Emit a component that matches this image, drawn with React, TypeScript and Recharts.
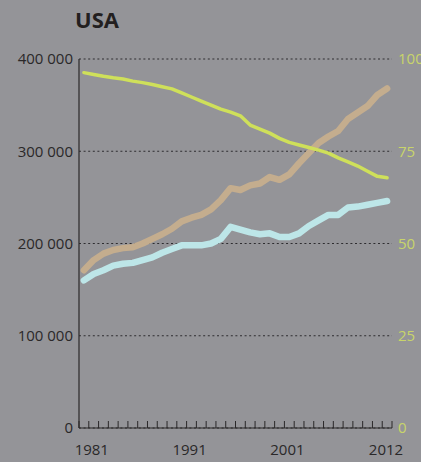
import { CartesianGrid, Line, LineChart, XAxis, YAxis } from "recharts";

const years = [
  1981, 1982, 1983, 1984, 1985, 1986, 1987, 1988, 1989, 1990, 1991, 1992, 1993,
  1994, 1995, 1996, 1997, 1998, 1999, 2000, 2001, 2002, 2003, 2004, 2005, 2006,
  2007, 2008, 2009, 2010, 2011, 2012,
];

// left axis
const tanValues = [
  171000, 182000, 189000, 193000, 195000, 196000, 200000, 205000, 210000,
  216000, 224000, 228000, 231000, 237000, 247000, 260000, 258000, 263000,
  265000, 272000, 269000, 275000, 287000, 298000, 309000, 316000, 322000,
  335000, 342000, 349000, 361000, 368000,
];
const cyanValues = [
  160000, 167000, 171000, 176000, 178000, 179000, 182000, 185000, 190000,
  194000, 198000, 198000, 198000, 200000, 205000, 218000, 215000, 212000,
  210000, 211000, 207000, 207000, 211000, 219000, 225000, 231000, 231000,
  239000, 240000, 242000, 244000, 246000,
];
// right axis (0-100)
const greenValues = [
  96.3, 95.8, 95.3, 94.9, 94.6, 94.0, 93.6, 93.1, 92.5, 91.9, 90.8, 89.7, 88.6,
  87.5, 86.4, 85.6, 84.6, 82.1, 81.0, 79.9, 78.5, 77.4, 76.7, 76.0, 75.3, 74.5,
  73.2, 72.1, 71.0, 69.6, 68.2, 67.8,
];

const leftTicks = [0, 100000, 200000, 300000, 400000];
const rightTicks = [0, 25, 50, 75, 100];
const labelYears = [1981, 1991, 2001, 2012];

const rows = years.map((year, i) => ({
  year,
  tan: tanValues[i],
  cyan: cyanValues[i],
  green: greenValues[i],
}));

// tick marks sit between the years
const tickMarks = [...years.map((y) => y - 0.5), years[years.length - 1] + 0.5];
const lastMark = tickMarks[tickMarks.length - 1];

const BG = "#949498";
const INK = "#2a2829";
const GREEN = "#cfe05a";

function YearTick(props: any) {
  const { x, y, payload } = props;
  const v = payload.value;
  const yearLabel = labelYears.find((ly) => ly + 0.5 === v);
  const isLast = v === lastMark;
  return (
    <g>
      <line x1={x} x2={x} y1={y} y2={y - 7} stroke={INK} strokeWidth={1} />
      {yearLabel !== undefined && (
        <text x={x + (isLast ? -6 : 3)} y={y + 27} textAnchor="middle" fill={INK} fontSize={15}>
          {yearLabel}
        </text>
      )}
    </g>
  );
}

const fmtLeft = (v: number) => (v === 0 ? "0" : `${v / 1000} 000`);

export default function App() {
  return (
    <div
      style={{
        position: "fixed",
        left: 0,
        top: 0,
        width: 421,
        height: 462,
        background: BG,
        fontFamily: "'Open Sans', sans-serif",
      }}
    >
      <div
        style={{
          position: "absolute",
          left: 75,
          top: 4,
          fontSize: 22,
          lineHeight: "30px",
          fontWeight: 700,
          color: "#231f20",
        }}
      >
        USA
      </div>
      <LineChart
        width={421}
        height={462}
        data={rows}
        margin={{ top: 59, right: 0, bottom: 0, left: 0 }}
      >
        <CartesianGrid
          vertical={false}
          yAxisId="left"
          stroke="#2e2d30"
          strokeDasharray="2 2.6"
        />
        <XAxis
          dataKey="year"
          type="number"
          domain={[tickMarks[0], lastMark]}
          ticks={tickMarks}
          interval={0}
          height={34}
          axisLine={{ stroke: INK, strokeWidth: 1.2 }}
          tickLine={false}
          tickSize={0}
          tickMargin={0}
          tick={<YearTick />}
        />
        <YAxis
          yAxisId="left"
          width={79}
          domain={[0, 400000]}
          ticks={leftTicks}
          interval={0}
          axisLine={{ stroke: INK, strokeWidth: 1.2 }}
          tickLine={false}
          tickSize={0}
          tickMargin={6}
          tickFormatter={fmtLeft}
          tick={{ fill: INK, fontSize: 15 }}
        />
        <YAxis
          yAxisId="right"
          orientation="right"
          width={29}
          domain={[0, 100]}
          ticks={rightTicks}
          interval={0}
          axisLine={false}
          tickLine={false}
          tickSize={0}
          tickMargin={6}
          tick={{ fill: "#c8d46a", fontSize: 15 }}
        />
        <Line
          yAxisId="left"
          dataKey="tan"
          type="linear"
          stroke="#c4ad8e"
          strokeWidth={6.5}
          strokeLinecap="round"
          strokeLinejoin="round"
          dot={false}
          isAnimationActive={false}
        />
        <Line
          yAxisId="left"
          dataKey="cyan"
          type="linear"
          stroke="#bde6e8"
          strokeWidth={6.5}
          strokeLinecap="round"
          strokeLinejoin="round"
          dot={false}
          isAnimationActive={false}
        />
        <Line
          yAxisId="right"
          dataKey="green"
          type="linear"
          stroke={GREEN}
          strokeWidth={3.5}
          strokeLinecap="round"
          strokeLinejoin="round"
          dot={false}
          isAnimationActive={false}
        />
      </LineChart>
    </div>
  );
}
